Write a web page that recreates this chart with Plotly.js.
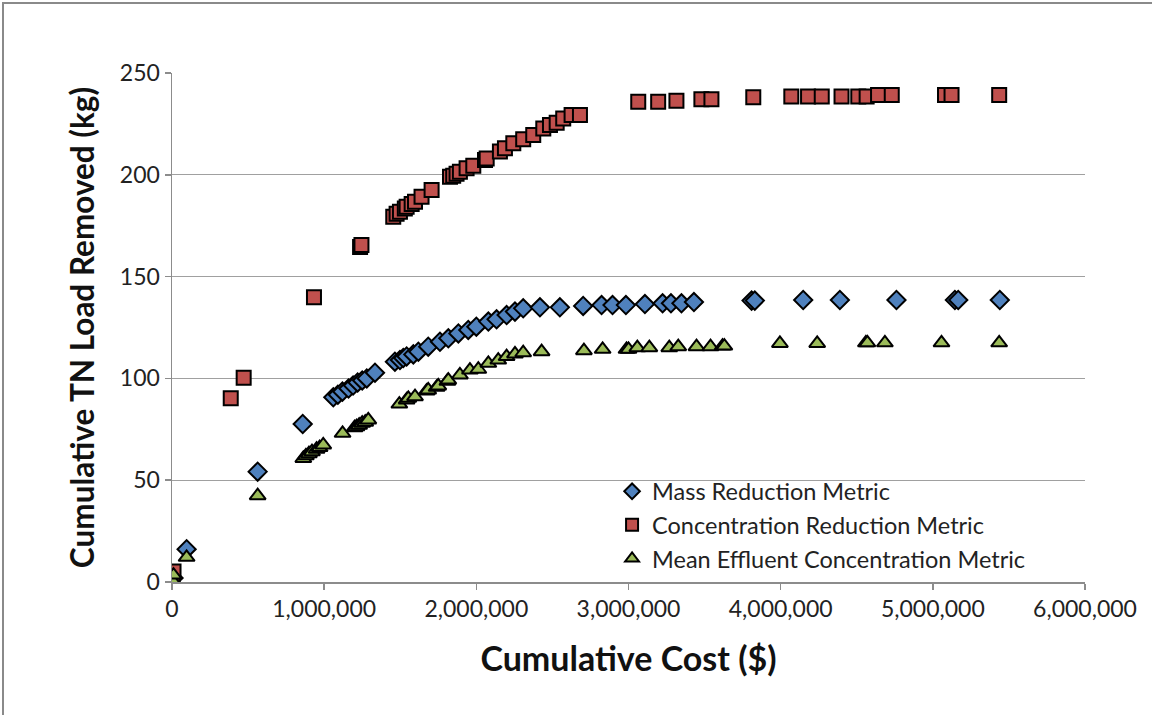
<!DOCTYPE html>
<html>
<head>
<meta charset="utf-8">
<script src="https://cdn.plot.ly/plotly-3.0.1.min.js"></script>
<style>
html,body{margin:0;padding:0;background:#fff;overflow:hidden;}
#frame{position:absolute;left:2px;top:2px;width:1160px;height:720px;border-top:2px solid #8a8a8a;border-left:2px solid #8a8a8a;}
#chart{position:absolute;left:0;top:0;width:1152px;height:715px;}
</style>
</head>
<body>
<div id="chart"></div>
<div id="frame"></div>
<script>
// Mass Reduction Metric
const massCost = [10000, 96000, 563000, 859000, 1060000, 1090000, 1120000, 1160000, 1190000, 1220000, 1250000, 1280000, 1334000, 1465000, 1498000, 1520000, 1542000, 1586000, 1619000, 1684000, 1761000, 1816000, 1882000, 1947000, 2000000, 2079000, 2133000, 2199000, 2254000, 2308000, 2418000, 2549000, 2702000, 2823000, 2895000, 2983000, 3108000, 3224000, 3279000, 3348000, 3430000, 3809000, 3830000, 4148000, 4389000, 4761000, 5145000, 5167000, 5440000];
const massLoad = [2, 16.1, 54.2, 77.6, 90.7, 92, 93.5, 95, 96.5, 98, 99, 100, 102.8, 108.2, 109, 110, 110.8, 111.8, 113.1, 115.6, 118, 119.7, 122.1, 123.8, 125.4, 127.9, 129, 131.1, 132.8, 134.4, 134.9, 134.9, 135.6, 136, 136, 136, 136.5, 136.9, 136.9, 136.9, 137.5, 138.2, 138.2, 138.5, 138.5, 138.5, 138.5, 138.5, 138.5];

// Concentration Reduction Metric
const concCost = [5000, 10000, 386000, 471000, 933000, 1236000, 1245000, 1454000, 1476000, 1498000, 1530000, 1542000, 1575000, 1597000, 1640000, 1706000, 1827000, 1848000, 1870000, 1892000, 1936000, 1980000, 2057000, 2068000, 2155000, 2188000, 2243000, 2308000, 2374000, 2440000, 2484000, 2528000, 2571000, 2626000, 2681000, 3064000, 3195000, 3315000, 3479000, 3545000, 3820000, 4070000, 4180000, 4270000, 4400000, 4510000, 4565000, 4640000, 4730000, 5080000, 5123000, 5436000];
const concLoad = [1, 5.1, 90.2, 100.3, 139.8, 164.5, 165.5, 179.4, 180.9, 181.9, 183.4, 184.3, 185.6, 186.8, 189.2, 192.5, 199, 199.5, 200.5, 201.5, 203.2, 204.5, 207.3, 208, 211.4, 213, 215.5, 217.4, 219.5, 222.8, 224.5, 225.6, 227.7, 229.4, 229.4, 235.9, 235.9, 236.4, 237.1, 237.1, 238.1, 238.4, 238.4, 238.4, 238.4, 238.4, 238.4, 239.2, 239.2, 239.2, 239.2, 239.2];

// Mean Effluent Concentration Metric
const effCost = [8000, 10000, 96000, 563000, 863000, 880000, 900000, 920000, 950000, 970000, 994000, 1121000, 1200000, 1213000, 1230000, 1250000, 1270000, 1290000, 1494000, 1542000, 1553000, 1597000, 1673000, 1684000, 1739000, 1750000, 1810000, 1816000, 1892000, 1958000, 2013000, 2079000, 2144000, 2199000, 2254000, 2308000, 2429000, 2707000, 2830000, 2987000, 3000000, 3058000, 3137000, 3268000, 3327000, 3447000, 3539000, 3618000, 3630000, 3995000, 4240000, 4560000, 4570000, 4685000, 5057000, 5436000];
const effLoad = [0.2, 3.4, 12.1, 42.4, 60.7, 62, 63, 64, 65.2, 66, 67.3, 73, 75.8, 76.3, 77, 78, 78.5, 79.6, 87.4, 89.4, 90.2, 91, 93.8, 94.3, 95.6, 96.3, 98.6, 99.2, 101.7, 104.1, 104.5, 107.4, 109, 110.7, 112, 112.6, 113.1, 113.6, 114.3, 114.3, 114.3, 115.1, 115.1, 115.1, 115.6, 115.6, 115.6, 115.9, 115.9, 117.2, 117.2, 117.5, 117.5, 117.5, 117.5, 117.5];

const xTickVals = [0, 1000000, 2000000, 3000000, 4000000, 5000000, 6000000];
const xTickText = ['0', '1,000,000', '2,000,000', '3,000,000', '4,000,000', '5,000,000', '6,000,000'];
const yTickVals = [0, 50, 100, 150, 200, 250];

const FONT = 'Lato, "Open Sans", sans-serif';

const traces = [
  {x: massCost, y: massLoad, name: 'Mass Reduction Metric', type: 'scatter', mode: 'markers',
   marker: {symbol: 'diamond', size: 14, color: '#4F81BD', line: {color: '#000', width: 2}}},
  {x: concCost, y: concLoad, name: 'Concentration Reduction Metric', type: 'scatter', mode: 'markers',
   marker: {symbol: 'square', size: 14, color: '#C0504D', line: {color: '#000', width: 2}}},
  {x: effCost, y: effLoad, name: 'Mean Effluent Concentration Metric', type: 'scatter', mode: 'markers',
   marker: {symbol: 'triangle-up', size: 14, color: '#9BBB59', line: {color: '#000', width: 2}}}
];

const layout = {
  width: 1152, height: 715,
  paper_bgcolor: '#fff', plot_bgcolor: '#fff',
  margin: {l: 172, r: 67, t: 73, b: 133},
  font: {family: FONT, color: '#222'},
  showlegend: true,
  legend: {x: 0.482, y: 0.221, xanchor: 'left', yanchor: 'top', bgcolor: 'rgba(0,0,0,0)',
           font: {family: FONT, size: 23.5, color: '#222'}, tracegroupgap: 0, itemsizing: 'constant'},
  xaxis: {
    range: [0, 6000000], tickvals: xTickVals, ticktext: xTickText,
    showgrid: false, zeroline: false, showline: true, linecolor: '#8c8c8c', linewidth: 1.5,
    ticks: 'outside', ticklen: 6, tickcolor: '#8c8c8c', tickwidth: 1.5,
    tickfont: {family: FONT, size: 23, color: '#222'},
    title: {text: '<b>Cumulative Cost ($)</b>', font: {family: FONT, size: 34, color: '#111'}, standoff: 26}
  },
  yaxis: {
    range: [0, 250], tickvals: yTickVals,
    showgrid: true, gridcolor: '#a0a0a0', gridwidth: 1.2, zeroline: false,
    showline: true, linecolor: '#8c8c8c', linewidth: 1.5,
    ticks: 'outside', ticklen: 6, tickcolor: '#8c8c8c', tickwidth: 1.5,
    tickfont: {family: FONT, size: 23, color: '#222'},
    title: {text: '<b>Cumulative TN Load Removed (kg)</b>', font: {family: FONT, size: 31.5, color: '#111'}, standoff: 16}
  }
};

Plotly.newPlot('chart', traces, layout, {displayModeBar: false, staticPlot: true});
</script>
</body>
</html>
